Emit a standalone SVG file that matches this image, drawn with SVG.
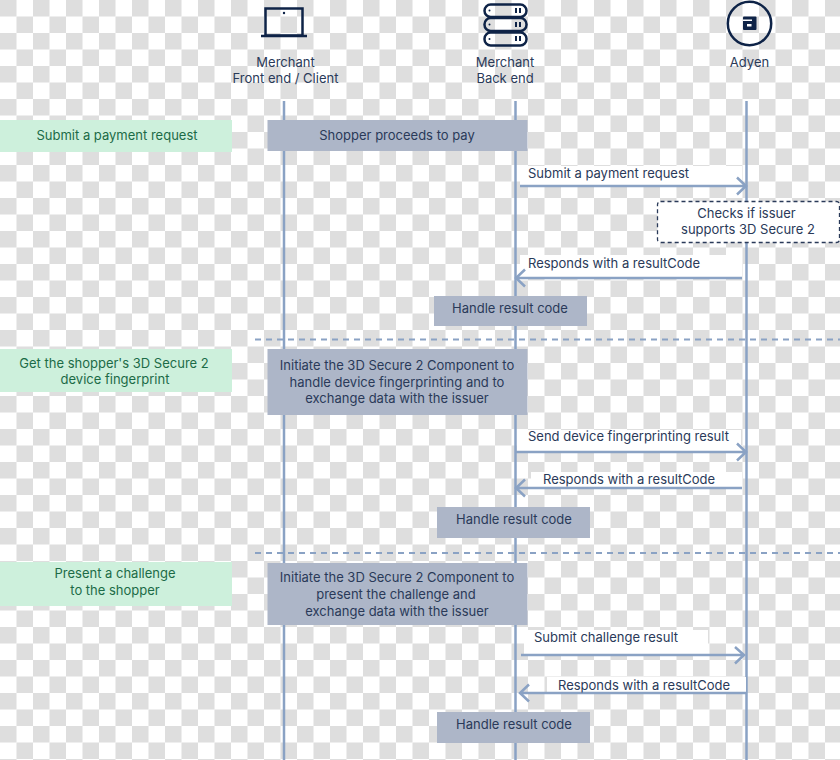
<svg xmlns="http://www.w3.org/2000/svg" width="840" height="760" viewBox="0 0 840 760">
<style>
text{font-family:Inter,"Liberation Sans",sans-serif;font-size:13px;fill:#2a3a59;text-anchor:middle}
.l{text-anchor:start}
.g{fill:#1c6b47}
.gb{fill:#cdf0dc}
.b{fill:#adb6c8}
.life{stroke:#8aa2c4;stroke-width:2.5;fill:none}
.msg{stroke:#8aa2c4;stroke-width:2.5;fill:none}
.sep{stroke:#8aa2c4;stroke-width:2;stroke-dasharray:6 5;fill:none}
.ic{fill:none;stroke:#0e2347;stroke-width:2.5}
.wb{fill:#fff}
</style>
<defs>
<pattern id="chk" width="33" height="33" patternUnits="userSpaceOnUse">
<rect width="33" height="33" fill="#fff"/>
<rect width="16.500" height="16.500" fill="#dedede"/>
<rect x="16.500" y="16.500" width="16.500" height="16.500" fill="#dedede"/>
</pattern>
</defs>
<rect id="background" width="840" height="760" fill="url(#chk)"/>
<g id="connectors">
<path class="life" d="M284 101V760"/>
<path class="life" d="M515.500 101V760"/>
<path class="life" d="M746.500 101V760"/>
<path class="sep" d="M255 339.500H840"/>
<path class="sep" d="M255 553H840"/>
<rect class="wb" x="520" y="166" width="222" height="19"/>
<path class="msg" d="M520 186H745M737 177.500L746 186L737 194.500"/>
<rect class="wb" x="520" y="255" width="222" height="22"/>
<path class="msg" d="M742 278H517M525 269.500L516 278L525 286.500"/>
<rect class="wb" x="517" y="430" width="224" height="21"/>
<path class="msg" d="M516 452H745M737 443.500L746 452L737 460.500"/>
<rect class="wb" x="531" y="472" width="211" height="15"/>
<path class="msg" d="M742 488H517M525 479.500L516 488L525 496.500"/>
<rect class="wb" x="524" y="630" width="184" height="24"/>
<path class="msg" d="M521 655H743M735 647L744 655L735 663.500"/>
<rect class="wb" x="547" y="677" width="199" height="15"/>
<path class="msg" d="M746 693H521M529 684.500L520 693L529 701.500"/>
</g>
<g id="actor-frontend">
<rect class="ic" x="265.500" y="8.500" width="37" height="27"/>
<path class="ic" d="M261 36H307"/>
<circle cx="284" cy="13" r="1.200" fill="#0e2347"/>
<text x="285.500" y="67">Merchant</text>
<text x="285.500" y="83">Front end / Client</text>
</g>
<g id="actor-backend">
<rect class="ic" x="484.500" y="4.500" width="42" height="12.500" rx="6.200"/>
<rect class="ic" x="484.500" y="18" width="42" height="13" rx="6.200"/>
<rect class="ic" x="484.500" y="32.500" width="42" height="13" rx="6.200"/>
<path d="M516 8v5M520 8v5M516 22v5M520 22v5M516 36v5M520 36v5" stroke="#0e2347" stroke-width="2" fill="none"/>
<circle cx="489.500" cy="10.500" r="1" fill="#0e2347"/>
<circle cx="489.500" cy="24.500" r="1" fill="#0e2347"/>
<circle cx="489.500" cy="39" r="1" fill="#0e2347"/>
<text x="505" y="67">Merchant</text>
<text x="505" y="83">Back end</text>
</g>
<g id="actor-adyen">
<circle class="ic" cx="749.500" cy="23.500" r="21.700"/>
<rect x="743" y="16.500" width="13.500" height="13.500" rx="1" fill="#0e2347"/>
<path d="M743 19.500H752V21H743ZM747 24H751.500V26.500H747Z" fill="#fff"/>
<text x="749.500" y="67">Adyen</text>
</g>
<g id="step-submit"><rect class="gb" y="120" width="232" height="32"/><text class="g" x="117" y="139.500">Submit a payment request</text></g>
<g id="step-fingerprint"><rect class="gb" y="349" width="232" height="43"/><text class="g" x="114" y="368">Get the shopper's 3D Secure 2</text><text class="g" x="115" y="384">device fingerprint</text></g>
<g id="step-challenge"><rect class="gb" y="562" width="232" height="44"/><text class="g" x="115" y="578">Present a challenge</text><text class="g" x="115" y="595">to the shopper</text></g>
<g id="box-proceed"><rect class="b" x="267.500" y="120" width="260" height="31"/><text x="397" y="139.500">Shopper proceeds to pay</text></g>
<g id="box-handle-1"><rect class="b" x="434" y="296" width="153" height="30"/><text x="510" y="313">Handle result code</text></g>
<g id="box-init-1"><rect class="b" x="267.500" y="349" width="260" height="66"/><text x="397" y="370">Initiate the 3D Secure 2 Component to</text><text x="397" y="387">handle device fingerprinting and to</text><text x="397" y="403">exchange data with the issuer</text></g>
<g id="box-handle-2"><rect class="b" x="437" y="507" width="153" height="31"/><text x="514" y="524">Handle result code</text></g>
<g id="box-init-2"><rect class="b" x="267.500" y="563" width="260" height="62"/><text x="397" y="582">Initiate the 3D Secure 2 Component to</text><text x="396" y="599">present the challenge and</text><text x="397" y="616">exchange data with the issuer</text></g>
<g id="box-handle-3"><rect class="b" x="437" y="712" width="153" height="31"/><text x="514" y="729">Handle result code</text></g>
<g id="note-issuer"><rect x="657.500" y="201.500" width="182" height="41" rx="3" fill="#fff" stroke="#2a3a59" stroke-width="1.300" stroke-dasharray="4 3"/><text x="746.500" y="218">Checks if issuer</text><text x="748" y="234">supports 3D Secure 2</text></g>
<g id="msg-labels">
<text class="l" x="528" y="177.500">Submit a payment request</text>
<text class="l" x="528" y="268">Responds with a resultCode</text>
<text class="l" x="528" y="441">Send device fingerprinting result</text>
<text class="l" x="543" y="484">Responds with a resultCode</text>
<text class="l" x="534" y="642">Submit challenge result</text>
<text class="l" x="558" y="690">Responds with a resultCode</text>
</g>
</svg>
